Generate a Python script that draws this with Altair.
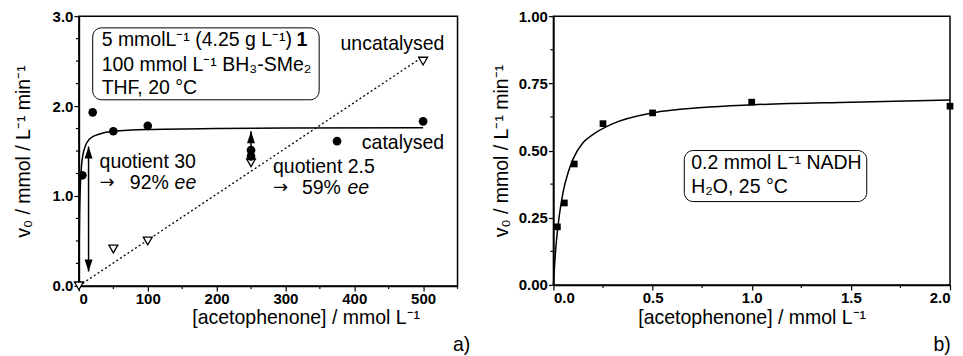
import altair as alt
import pandas as pd

FONT = "Liberation Sans"

# ---------------- panel a) data ----------------
cat_x = [5, 20, 50, 100, 250, 250, 375, 500]
cat_y = [1.23, 1.93, 1.72, 1.78, 1.51, 1.44, 1.61, 1.83]
unc_x = [0, 50, 100, 250, 500]
unc_y = [0.0, 0.41, 0.50, 1.37, 2.50]
catfit_x = [0, 0.5, 1, 2, 3, 5, 7, 10, 15, 20, 30, 50, 100, 200, 300, 500]
catfit_y = [0, 0.52, 0.80, 1.10, 1.26, 1.42, 1.50, 1.57, 1.63, 1.66, 1.69, 1.72, 1.74, 1.75, 1.755, 1.76]
uncfit_x = [0, 500]
uncfit_y = [0, 2.55]
a_xticks = [0, 100, 200, 300, 400, 500]
a_xminor = [50, 150, 250, 350, 450, 550]
a_yticks = [0, 1, 2, 3]
a_yminor = [0.25, 0.5, 0.75, 1.25, 1.5, 1.75, 2.25, 2.5, 2.75]

# ---------------- panel b) data ----------------
b_x = [0.02, 0.055, 0.105, 0.25, 0.5, 1.0, 2.0]
b_y = [0.216, 0.305, 0.45, 0.60, 0.64, 0.68, 0.665]
bfit_x = [0, 0.005, 0.01, 0.02, 0.03, 0.05, 0.075, 0.1, 0.15, 0.2, 0.3, 0.5, 0.75, 1.0, 1.5, 2.0]
bfit_y = [0, 0.064, 0.118, 0.20, 0.26, 0.35, 0.42, 0.47, 0.53, 0.56, 0.60, 0.64, 0.66, 0.67, 0.68, 0.688]
b_xticks = [0, 0.5, 1.0, 1.5, 2.0]
b_xminor = [0.25, 0.75, 1.25, 1.75]
b_yticks = [0, 0.25, 0.5, 0.75, 1.0]
b_yminor = [0.125, 0.375, 0.625, 0.875]

YTITLE = "v\u2080 / mmol / L\u207b\u00b9 min\u207b\u00b9"
XTITLE = "[acetophenone] / mmol L\u207b\u00b9"

W_A, H_A = 379, 270
W_B, H_B = 397, 269
FS = 19.5

UP = "M0,0 L-0.8,2.4 L0.8,2.4 Z"
DOWN = "M0,0 L-0.8,-2.4 L0.8,-2.4 Z"


def texts(df, size=FS, style="normal", weight="normal", align="left", font=FONT):
    return alt.Chart(df).mark_text(
        font=font, fontSize=size, fontStyle=style, fontWeight=weight,
        align=align, baseline="middle", color="black"
    )


# ---------------- panel a) ----------------
ax = alt.X("x:Q", scale=alt.Scale(domain=[0, 550], nice=False, zero=False),
           axis=alt.Axis(values=a_xticks, format="d", title=XTITLE, titleX=227, titleY=32,
                         titleBaseline="middle", titleAlign="center"))
ay = alt.Y("y:Q", scale=alt.Scale(domain=[0, 3], nice=False),
           axis=alt.Axis(values=a_yticks, format=".1f", title=YTITLE, titlePadding=19))

box_a = pd.DataFrame({"x": [20], "x2": [349], "y": [2.07], "y2": [2.87]})
box_a_l = alt.Chart(box_a).mark_rect(fill="white", stroke="black", strokeWidth=1, cornerRadius=9).encode(
    x=ax, x2="x2:Q", y=ay, y2="y2:Q")

box_lines = pd.DataFrame({
    "x": [33, 33, 33],
    "y": [2.73, 2.46, 2.20],
    "t": ["5 mmolL\u207b\u00b9 (4.25 g L\u207b\u00b9)", "100 mmol L\u207b\u00b9 BH\u2083-SMe\u2082", "THF, 20 \u00b0C"],
})
box_txt = texts(box_lines).encode(x=ax, y=ay, text="t:N")
bold1 = texts(pd.DataFrame({"x": [316], "y": [2.73], "t": ["1"]}), weight="bold").encode(x=ax, y=ay, text="t:N")

ann = pd.DataFrame({
    "x": [30, 74, 282, 324, 411],
    "y": [1.38, 1.14, 1.32, 1.09, 1.59],
    "t": ["quotient 30", "92% ", "quotient 2.5", "59% ", "catalysed"],
})
ann_txt = texts(ann).encode(x=ax, y=ay, text="t:N")
arrows_txt = texts(pd.DataFrame({"x": [30, 282], "y": [1.14, 1.09], "t": ["\u2192", "\u2192"]}),
                   size=18, font="DejaVu Sans").encode(x=ax, y=ay, text="t:N")
ann_r = texts(pd.DataFrame({"x": [531], "y": [2.69], "t": ["uncatalysed"]}), align="right").encode(
    x=ax, y=ay, text="t:N")
ee = texts(pd.DataFrame({"x": [139, 390], "y": [1.14, 1.09], "t": ["ee", "ee"]}), style="italic").encode(
    x=ax, y=ay, text="t:N")
lab_a = texts(pd.DataFrame({"x": [556], "y": [-0.66], "t": ["a)"]}), align="center").encode(
    x=ax, y=ay, text="t:N")

unc_line = alt.Chart(pd.DataFrame({"x": uncfit_x, "y": uncfit_y})).mark_line(
    color="black", strokeWidth=1.3, strokeDash=[2, 2.5]).encode(x=ax, y=ay)
cat_line = alt.Chart(pd.DataFrame({"x": catfit_x, "y": catfit_y})).mark_line(
    color="black", strokeWidth=1.5, interpolate="monotone").encode(x=ax, y=ay)
cat_pts = alt.Chart(pd.DataFrame({"x": cat_x, "y": cat_y})).mark_point(
    shape="circle", filled=True, color="black", size=75, opacity=1).encode(x=ax, y=ay)
unc_pts = alt.Chart(pd.DataFrame({"x": unc_x, "y": unc_y})).mark_point(
    shape="triangle-down", filled=True, fill="white", stroke="black", strokeWidth=1.3, size=80,
    opacity=1).encode(x=ax, y=ay)

arrows = pd.DataFrame({"x": [14, 250], "y": [0.16, 1.33], "y2": [1.55, 1.72]})
arr_line = alt.Chart(arrows).mark_rule(color="black", strokeWidth=1.5).encode(x=ax, y=ay, y2="y2:Q")
arr_up = alt.Chart(pd.DataFrame({"x": [14, 250], "y": [1.55, 1.72]})).mark_point(
    shape=UP, filled=True, color="black", size=100, opacity=1).encode(x=ax, y=ay)
arr_dn = alt.Chart(pd.DataFrame({"x": [14, 250], "y": [0.16, 1.33]})).mark_point(
    shape=DOWN, filled=True, color="black", size=100, opacity=1).encode(x=ax, y=ay)

xminor_a = alt.Chart(pd.DataFrame({"x": a_xminor})).mark_rule(color="black", strokeWidth=1.2).encode(
    x=ax, y=alt.value(H_A), y2=alt.value(H_A + 3))
yminor_a = alt.Chart(pd.DataFrame({"y": a_yminor})).mark_rule(color="black", strokeWidth=1.2).encode(
    y=ay, x=alt.value(0), x2=alt.value(-3))

panel_a = alt.layer(
    box_a_l, box_txt, bold1, unc_line, cat_line, arr_line, arr_up, arr_dn,
    unc_pts, cat_pts, ann_txt, arrows_txt, ann_r, ee, lab_a, xminor_a, yminor_a
).properties(width=W_A, height=H_A)

# ---------------- panel b) ----------------
bx = alt.X("x:Q", scale=alt.Scale(domain=[0, 2], nice=False, zero=False),
           axis=alt.Axis(values=b_xticks, format=".1f", title=XTITLE, titleY=33,
                         titleBaseline="middle"))
by = alt.Y("y:Q", scale=alt.Scale(domain=[0, 1], nice=False),
           axis=alt.Axis(values=b_yticks, format=".2f", title=YTITLE, titlePadding=7))

box_b = alt.Chart(pd.DataFrame({"x": [0.66], "x2": [1.58], "y": [0.31], "y2": [0.50]})).mark_rect(
    fill="white", stroke="black", strokeWidth=1, cornerRadius=9).encode(x=bx, x2="x2:Q", y=by, y2="y2:Q")
box_b_txt = texts(pd.DataFrame({
    "x": [0.695, 0.695], "y": [0.453, 0.364],
    "t": ["0.2 mmol L\u207b\u00b9 NADH", "H\u2082O, 25 \u00b0C"]})).encode(x=bx, y=by, text="t:N")
b_line = alt.Chart(pd.DataFrame({"x": bfit_x, "y": bfit_y})).mark_line(
    color="black", strokeWidth=1.5, interpolate="monotone").encode(x=bx, y=by)
b_pts = alt.Chart(pd.DataFrame({"x": b_x, "y": b_y})).mark_point(
    shape="square", filled=True, color="black", size=45, opacity=1).encode(x=bx, y=by)
lab_b = texts(pd.DataFrame({"x": [1.96], "y": [-0.223], "t": ["b)"]}), align="center").encode(
    x=bx, y=by, text="t:N")
xminor_b = alt.Chart(pd.DataFrame({"x": b_xminor})).mark_rule(color="black", strokeWidth=1.2).encode(
    x=bx, y=alt.value(H_B), y2=alt.value(H_B + 3))
yminor_b = alt.Chart(pd.DataFrame({"y": b_yminor})).mark_rule(color="black", strokeWidth=1.2).encode(
    y=by, x=alt.value(0), x2=alt.value(-3))

panel_b = alt.layer(box_b, box_b_txt, b_line, b_pts, lab_b, xminor_b, yminor_b).properties(
    width=W_B, height=H_B)

chart = alt.hconcat(panel_a, panel_b, spacing=96, bounds="flush").properties(
    padding={"left": 4, "top": 0, "right": 0, "bottom": 0}
).configure(
    background="white"
).configure_view(
    stroke="black", strokeWidth=1.5
).configure_axis(
    domainColor="black", domainWidth=1.5, tickColor="black", tickWidth=1.2, tickSize=5,
    labelFont=FONT, labelFontSize=15, labelFontWeight="bold", labelColor="black", labelPadding=1,
    titleFont=FONT, titleFontSize=FS, titleFontWeight="normal", titleColor="black",
    grid=False
)

chart.save("out.html", embed_options={"renderer": "svg", "actions": False})
